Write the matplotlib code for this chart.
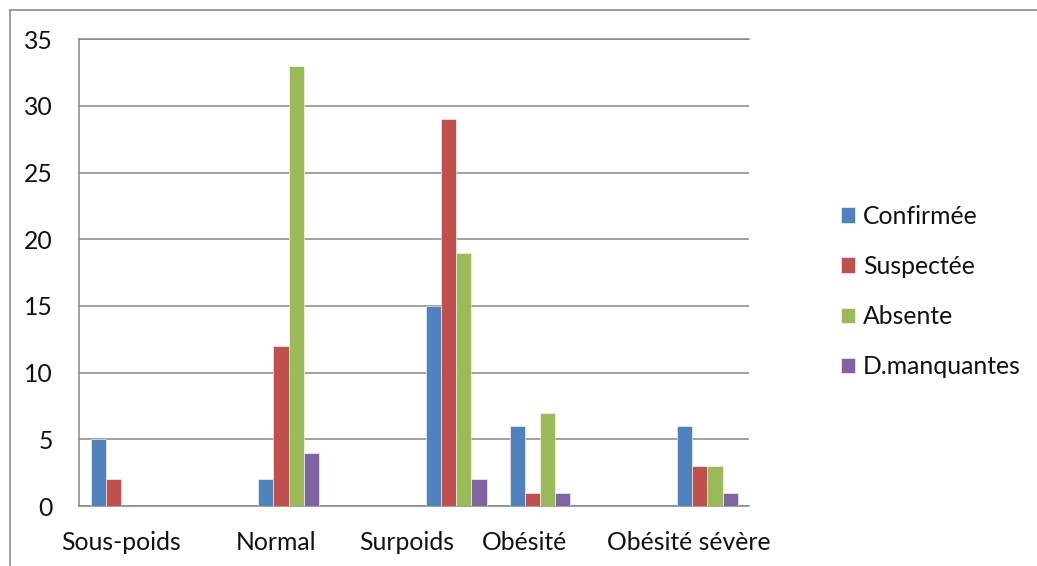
import matplotlib
matplotlib.use('Agg')
import matplotlib.pyplot as plt
from matplotlib.lines import Line2D
import numpy as np

plt.rcParams['font.family'] = ['Lato', 'DejaVu Sans']

# groupes d'IMC et leur place sur l'axe (certaines places restent vides)
categories = ['Sous-poids', 'Normal', 'Surpoids', 'Obésité', 'Obésité sévère']
slots = [0, 2, 4, 5, 7]
label_pos = [0.0, 1.85, 3.41, 4.81, 6.78]

series = ['Confirmée', 'Suspectée', 'Absente', 'D.manquantes']
confirmee = [5, 2, 15, 6, 6]
suspectee = [2, 12, 29, 1, 3]
absente = [0, 33, 19, 7, 3]
manquantes = [0, 4, 2, 1, 1]
values = [confirmee, suspectee, absente, manquantes]
colors = ['#4F81BD', '#C0504D', '#9BBB59', '#8064A2']

fs = 17.8

fig = plt.figure(figsize=(10.37, 5.66), dpi=100)
ax = fig.add_axes([79.3 / 1037, 60 / 566, 670 / 1037, 466.7 / 566])

w = 0.1815
x = np.array(slots, dtype=float)
for i, (name, vals, c) in enumerate(zip(series, values, colors)):
    ax.bar(x + (i - 1.5) * w, vals, w, color=c, label=name,
           edgecolor='white', linewidth=0.4, zorder=3)

ax.set_xlim(-0.5, 7.5)
ax.set_ylim(0, 35)
ax.set_yticks(range(0, 36, 5))
ax.set_xticks(label_pos)
ax.set_xticklabels(categories)

grey = '#878787'
ax.yaxis.grid(True, color=grey, linewidth=1.1, zorder=0)
ax.set_axisbelow(True)
for s in ['left', 'bottom', 'top']:
    ax.spines[s].set_color(grey)
    ax.spines[s].set_linewidth(1.1)
ax.spines['right'].set_visible(False)
ax.tick_params(axis='y', length=0, pad=19, labelsize=fs, labelcolor='#111111')
ax.tick_params(axis='x', length=0, pad=18, labelsize=fs, labelcolor='#111111')

leg = ax.legend(loc='center left', bbox_to_anchor=(841 / 1037, 1 - 291.5 / 566),
                bbox_transform=fig.transFigure, frameon=False, fontsize=fs,
                handlelength=0.58, handleheight=0.58, handletextpad=0.3,
                labelspacing=1.1, borderpad=0, borderaxespad=0)
for t in leg.get_texts():
    t.set_color('#111111')

# cadre extérieur du graphique
bx = 9.5 / 1037
by = 1 - 9.5 / 566
fig.add_artist(Line2D([bx, bx], [0, by], color='#8c8c8c', linewidth=1.2))
fig.add_artist(Line2D([bx, 1], [by, by], color='#8c8c8c', linewidth=1.2))

fig.savefig('out.png', dpi=100)
